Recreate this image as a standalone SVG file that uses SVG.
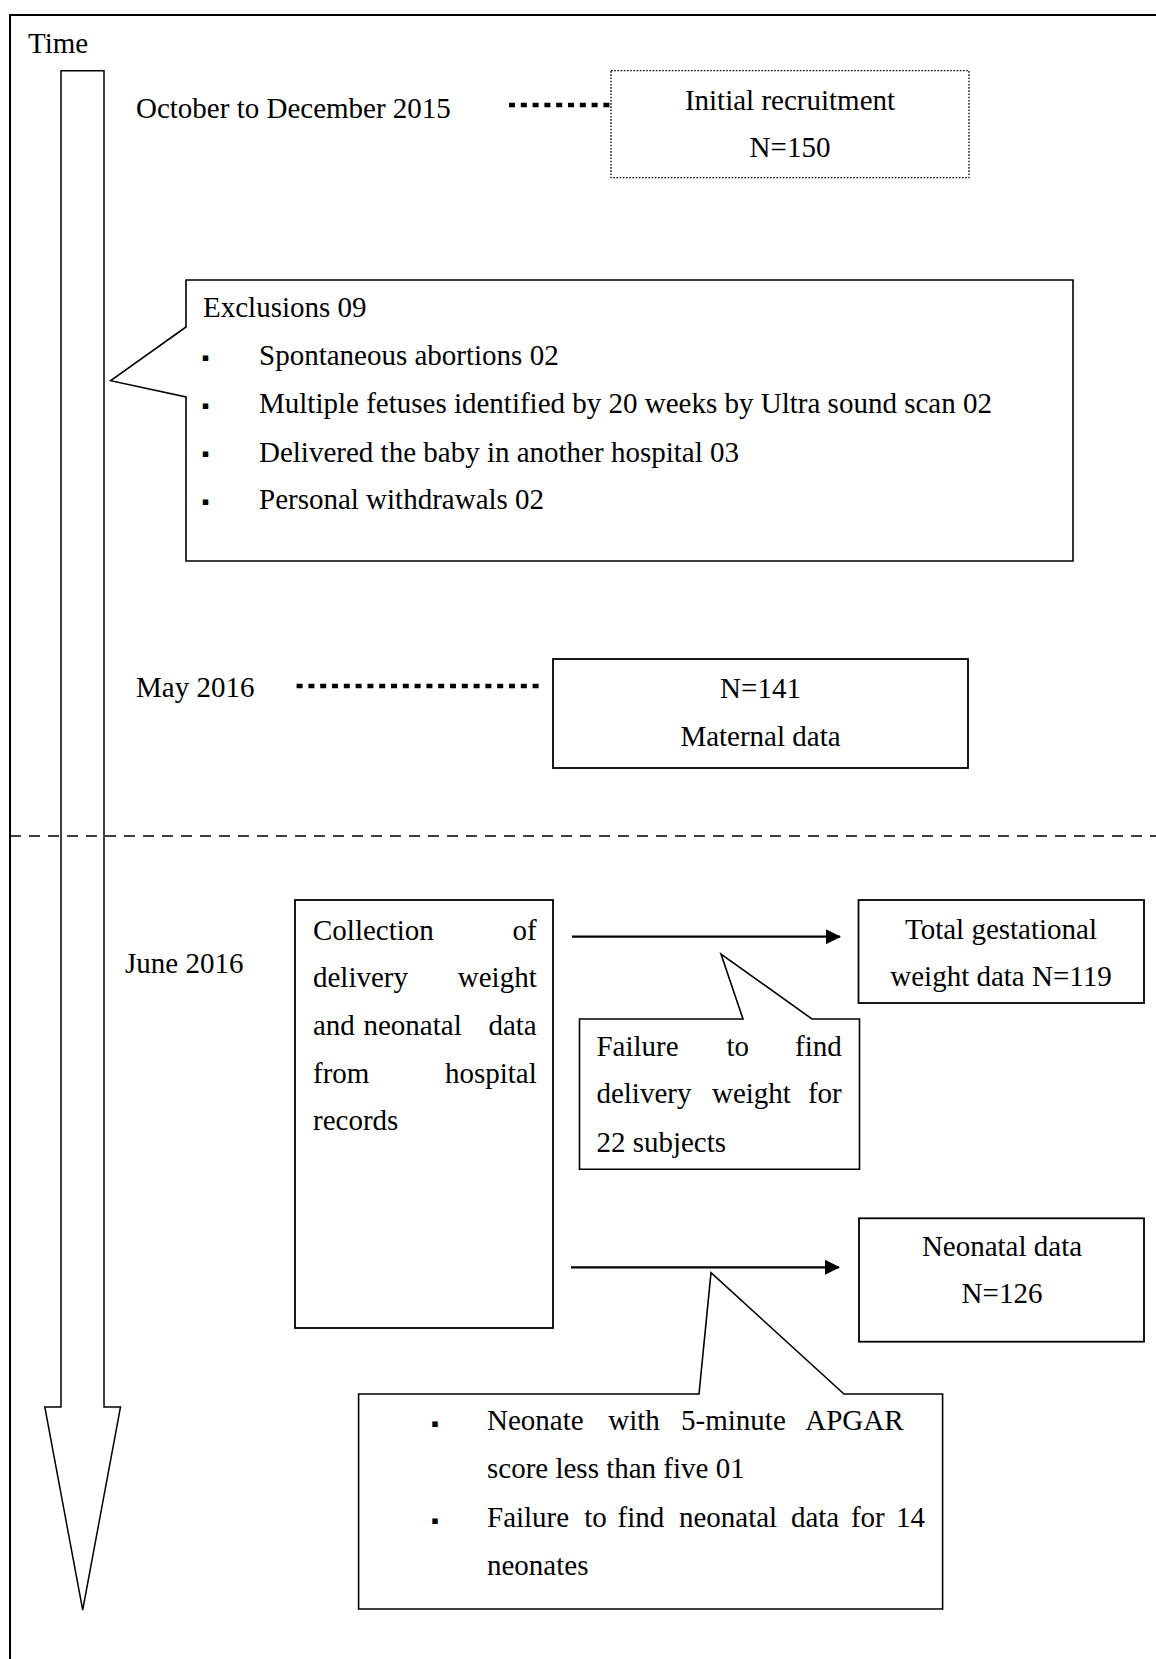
<svg xmlns="http://www.w3.org/2000/svg" width="1156" height="1659" viewBox="0 0 1156 1659">
<style>
  text { font-family: "Liberation Serif", "Times New Roman", serif; font-size: 29px; fill: #000; }
  .c { text-anchor: middle; }
  .bul { font-family: "DejaVu Sans", sans-serif; font-size: 11px; text-anchor: middle; }
  .box { fill: #fff; stroke: #000; stroke-width: 1.8; }
  .call { fill: #fff; stroke: #000; stroke-width: 1.6; stroke-linejoin: miter; }
  .dotbox { fill: #fff; stroke: #000; stroke-width: 1.3; stroke-dasharray: 1.6 1.6; }
  .dots { fill: none; stroke: #000; stroke-width: 4.5; stroke-dasharray: 6 5.8; }
  .arrow { fill: none; stroke: #000; stroke-width: 2.2; marker-end: url(#ah); }
</style>
<defs>
  <marker id="ah" viewBox="0 0 15 15" refX="14" refY="7.5" markerWidth="15" markerHeight="15" markerUnits="userSpaceOnUse" orient="auto">
    <path d="M0,0 L15,7.5 L0,15 Z" fill="#000"/>
  </marker>
</defs>
<rect x="0" y="0" width="1156" height="1659" fill="#fff"/>

<g id="frame">
  <path d="M10,1659 V15 H1156" fill="none" stroke="#000" stroke-width="2"/>
</g>

<g id="time-axis">
  <text x="28" y="53">Time</text>
  <path d="M61,70.7 H104 V1407 H120.5 L82.7,1610 L44.8,1407 H61 Z" fill="#fff" stroke="#000" stroke-width="1.5"/>
</g>

<g id="divider">
  <path d="M10,836 H1156" fill="none" stroke="#000" stroke-width="1.5" stroke-dasharray="11 8"/>
</g>

<g id="label-oct">
  <text x="136" y="118">October to December 2015</text>
</g>
<g id="label-may">
  <text x="136" y="696.5">May 2016</text>
</g>
<g id="label-june">
  <text x="125" y="973">June 2016</text>
</g>

<g id="connectors">
  <path class="dots" d="M509,105 H611"/>
  <path class="dots" d="M296.6,686 H540"/>
  <path class="arrow" d="M572,936.7 H840"/>
  <path class="arrow" d="M571,1267.3 H839"/>
</g>

<g id="node-initial">
  <rect class="dotbox" x="611" y="70.7" width="358" height="107"/>
  <text class="c" x="790" y="109.5">Initial recruitment</text>
  <text class="c" x="790" y="156.5">N=150</text>
</g>

<g id="node-exclusions">
  <path class="call" d="M186,280 H1073 V561 H186 V397 L110.7,380.7 L186,327 Z"/>
  <text x="203" y="317">Exclusions 09</text>
  <text class="bul" x="205.5" y="360.5">▪</text>
  <text x="259" y="365">Spontaneous abortions 02</text>
  <text class="bul" x="205.5" y="408.8">▪</text>
  <text x="259" y="413.3">Multiple fetuses identified by 20 weeks by Ultra sound scan 02</text>
  <text class="bul" x="205.5" y="457.2">▪</text>
  <text x="259" y="461.7">Delivered the baby in another hospital 03</text>
  <text class="bul" x="205.5" y="504.8">▪</text>
  <text x="259" y="509.3">Personal withdrawals 02</text>
</g>

<g id="node-maternal">
  <rect class="box" x="553" y="659" width="415" height="109"/>
  <text class="c" x="760.5" y="698">N=141</text>
  <text class="c" x="760.5" y="746">Maternal data</text>
</g>

<g id="node-collection">
  <rect class="box" x="295" y="900" width="258" height="428"/>
  <text y="940"><tspan x="313">Collection</tspan><tspan x="512.5">of</tspan></text>
  <text y="987"><tspan x="313">delivery</tspan><tspan x="457.8">weight</tspan></text>
  <text y="1035"><tspan x="313">and</tspan><tspan x="363.5">neonatal</tspan><tspan x="488.4">data</tspan></text>
  <text y="1083"><tspan x="313">from</tspan><tspan x="444.9">hospital</tspan></text>
  <text x="313" y="1130">records</text>
</g>

<g id="node-gestational">
  <rect class="box" x="858.5" y="900" width="285.5" height="103"/>
  <text class="c" x="1001" y="938.5">Total gestational</text>
  <text class="c" x="1001" y="985.5">weight data N=119</text>
</g>

<g id="node-failure-weight">
  <path class="call" d="M579.5,1019 H743 L721,954 L812,1019 H859.5 V1169.3 H579.5 Z"/>
  <text y="1056"><tspan x="596.4">Failure</tspan><tspan x="726.4">to</tspan><tspan x="795">find</tspan></text>
  <text y="1103"><tspan x="596.4">delivery</tspan><tspan x="712">weight</tspan><tspan x="807.9">for</tspan></text>
  <text x="596.4" y="1151.5">22 subjects</text>
</g>

<g id="node-neonatal">
  <rect class="box" x="859" y="1218.3" width="285" height="123.4"/>
  <text class="c" x="1002" y="1256">Neonatal data</text>
  <text class="c" x="1002" y="1303.3">N=126</text>
</g>

<g id="node-neonatal-exclusions">
  <path class="call" d="M358.6,1394 H699 L711,1272.7 L844,1394 H942.6 V1609 H358.6 Z"/>
  <text class="bul" x="435" y="1427">▪</text>
  <text y="1430"><tspan x="487">Neonate</tspan><tspan x="608.2">with</tspan><tspan x="681.1">5-minute</tspan><tspan x="805.2">APGAR</tspan></text>
  <text x="487" y="1478">score less than five 01</text>
  <text class="bul" x="435" y="1523.5">▪</text>
  <text y="1526.7"><tspan x="487">Failure</tspan><tspan x="584.2">to</tspan><tspan x="617.6">find</tspan><tspan x="678.9">neonatal</tspan><tspan x="790.9">data</tspan><tspan x="850.9">for</tspan><tspan x="896">14</tspan></text>
  <text x="487" y="1575">neonates</text>
</g>
</svg>
